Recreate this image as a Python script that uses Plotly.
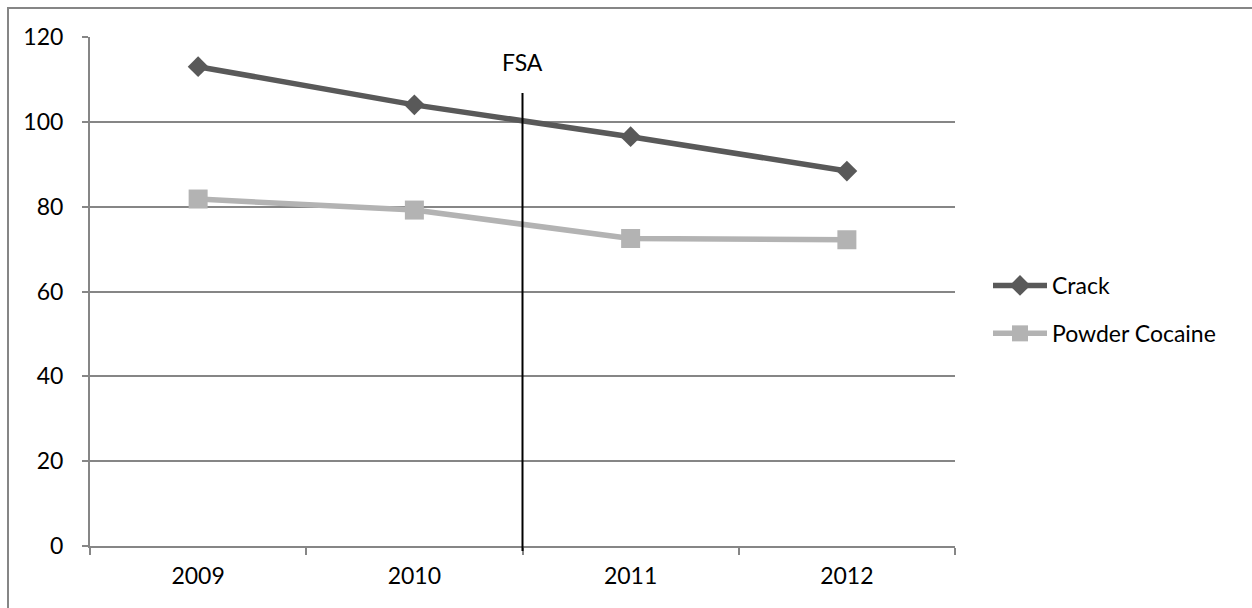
import plotly.graph_objects as go

years = ["2009", "2010", "2011", "2012"]
crack = [113.0, 104.0, 96.5, 88.4]
powder = [81.8, 79.2, 72.5, 72.2]
y_ticks = [0, 20, 40, 60, 80, 100, 120]

W, H = 1252, 608
L, R, T, B = 90, 297, 37, 62
plot_h = H - T - B

GRID = "#868686"
FONT = "Lato, 'Open Sans', sans-serif"
FS = 23

fig = go.Figure()
fig.add_trace(go.Scatter(
    x=years, y=crack, name="Crack", mode="lines+markers",
    line=dict(color="#595959", width=5.5),
    marker=dict(symbol="diamond", size=16, color="#595959"),
    legendgroup="a",
))
fig.add_trace(go.Scatter(
    x=years, y=powder, name="Powder Cocaine", mode="lines+markers",
    line=dict(color="#b3b3b3", width=5.5),
    marker=dict(symbol="square", size=19, color="#b3b3b3"),
    legendgroup="b",
))

# vertical marker for the FSA between 2010 and 2011
fig.add_shape(type="line", xref="x", yref="paper",
              x0=1.5, x1=1.5, y0=-5 / plot_h, y1=(546 - 93) / plot_h,
              line=dict(color="black", width=2))
fig.add_annotation(xref="x", yref="paper", x=1.5, y=(546 - 62) / plot_h,
                   yanchor="middle", xanchor="center",
                   text="FSA", showarrow=False,
                   font=dict(family=FONT, size=FS, color="black"))

# outer chart frame
fig.add_shape(type="rect", xref="paper", yref="paper",
              x0=(8 - L) / (W - L - R), x1=1.5,
              y0=-0.3, y1=(546 - 8) / plot_h,
              line=dict(color=GRID, width=2), layer="below")

fig.update_layout(
    width=W, height=H,
    margin=dict(l=L, r=R, t=T, b=B),
    paper_bgcolor="white", plot_bgcolor="white",
    font=dict(family=FONT, size=FS, color="black"),
    showlegend=True,
    legend=dict(x=(988 - L) / (W - L - R), y=(546 - 264) / plot_h,
                xanchor="left", yanchor="top",
                tracegroupgap=15, traceorder="grouped",
                itemwidth=54,
                font=dict(family=FONT, size=FS, color="black"),
                bgcolor="rgba(0,0,0,0)"),
)
fig.update_xaxes(
    type="category", range=[-0.5, 3.5],
    showgrid=False, showline=True, linecolor=GRID, linewidth=2,
    ticks="outside", tickson="boundaries", ticklen=7, tickcolor=GRID, tickwidth=2,
    ticklabelstandoff=8,
    tickfont=dict(family=FONT, size=FS, color="black"),
)
fig.update_yaxes(
    range=[0, 120], tickvals=y_ticks,
    showgrid=True, gridcolor=GRID, gridwidth=2,
    showline=True, linecolor=GRID, linewidth=2,
    ticks="outside", ticklen=6, tickcolor=GRID, tickwidth=2,
    ticklabelstandoff=14,
    zeroline=False,
    tickfont=dict(family=FONT, size=FS, color="black"),
)

fig.write_html("out.html")
